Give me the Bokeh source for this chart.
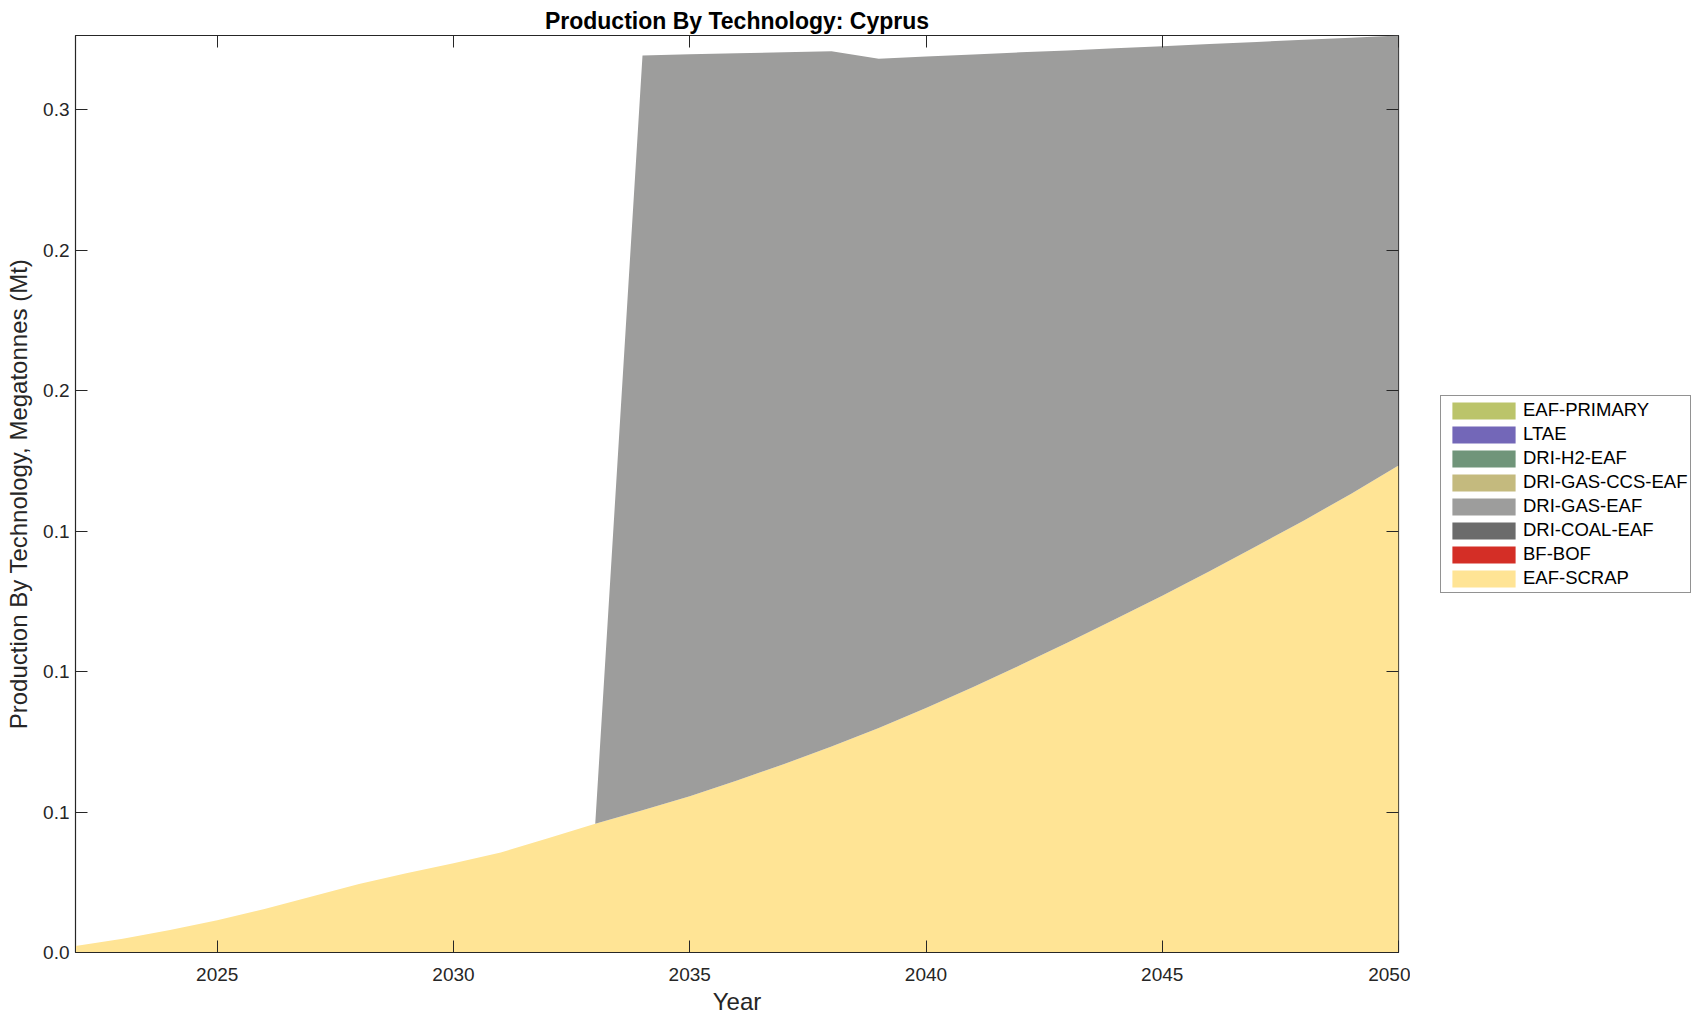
from bokeh.plotting import figure
from bokeh.layouts import row
from bokeh.models import (Range1d, FixedTicker, LinearAxis, Legend, LegendItem)
from bokeh.embed import file_html
from bokeh.resources import INLINE

years = list(range(2022, 2051))

eaf_scrap = [0.0023, 0.0049, 0.0080, 0.0115, 0.0155, 0.0199, 0.0244, 0.0282,
             0.0318, 0.0356, 0.0407, 0.0458, 0.0506, 0.0556, 0.0612, 0.0671,
             0.0733, 0.0799, 0.0870, 0.0945, 0.1023, 0.1103, 0.1186, 0.1270,
             0.1357, 0.1447, 0.1538, 0.1633, 0.1733]
bf_bof = [0.0] * 29
dri_coal_eaf = [0.0] * 29
dri_gas_eaf = [0.0, 0.0, 0.0, 0.0, 0.0, 0.0, 0.0, 0.0,
               0.0, 0.0, 0.0, 0.0, 0.2687, 0.2641, 0.2589, 0.2533,
               0.2475, 0.2382, 0.2319, 0.2251, 0.2181, 0.2108, 0.2033, 0.1956,
               0.1877, 0.1794, 0.1711, 0.1623, 0.1531]
dri_gas_ccs_eaf = [0.0] * 29
dri_h2_eaf = [0.0] * 29
ltae = [0.0] * 29
eaf_primary = [0.0] * 29

# stacking order: bottom to top
series_names = ["EAF-SCRAP", "BF-BOF", "DRI-COAL-EAF", "DRI-GAS-EAF",
                "DRI-GAS-CCS-EAF", "DRI-H2-EAF", "LTAE", "EAF-PRIMARY"]
series_values = [eaf_scrap, bf_bof, dri_coal_eaf, dri_gas_eaf,
                 dri_gas_ccs_eaf, dri_h2_eaf, ltae, eaf_primary]
series_colors = ["#FFE495", "#D42E26", "#6B6B6B", "#9D9D9C",
                 "#C4BA7E", "#70957A", "#7367B8", "#BBC46A"]

y_ticks = [0.0, 0.05, 0.10, 0.15, 0.20, 0.25, 0.30]
y_tick_labels = ["0.0", "0.1", "0.1", "0.1", "0.2", "0.2", "0.3"]
x_ticks = [2025, 2030, 2035, 2040, 2045, 2050]

data = {"year": years}
for n, v in zip(series_names, series_values):
    data[n] = v
totals = [sum(col[i] for col in series_values) for i in range(len(years))]
ymax = max(totals)

FONT = "Liberation Sans"
TXT = "#262626"
W1 = 1410
H = 1021

p = figure(width=W1, height=H, output_backend="svg", toolbar_location=None,
           x_range=Range1d(2022, 2050), y_range=Range1d(0, ymax),
           min_border_left=75, min_border_right=W1 - 1398, min_border_top=35,
           min_border_bottom=69)
p.title.text = "Production By Technology: Cyprus"
p.title.text_font = FONT
p.title.text_font_size = "23px"
p.title.text_font_style = "bold"
p.title.text_color = "#000000"
p.title.align = "center"
p.title.standoff = 4

renderers = p.varea_stack(stackers=series_names, x="year", color=series_colors,
                          source=data)

p.grid.visible = False
p.background_fill_color = "white"
p.border_fill_color = "white"
p.outline_line_color = TXT
p.outline_line_width = 1.2

for ax in (p.xaxis[0], p.yaxis[0]):
    ax.major_tick_in = 12
    ax.major_tick_out = 0
    ax.minor_tick_line_color = None
    ax.axis_line_color = TXT
    ax.major_tick_line_color = TXT
    ax.major_label_text_font = FONT
    ax.major_label_text_font_size = "19px"
    ax.major_label_text_color = TXT
    ax.axis_label_text_font = FONT
    ax.axis_label_text_font_size = "24px"
    ax.axis_label_text_font_style = "normal"
    ax.axis_label_text_color = TXT

p.xaxis[0].ticker = FixedTicker(ticks=x_ticks)
p.xaxis[0].axis_label = "Year"
p.xaxis[0].major_label_standoff = 15
p.xaxis[0].axis_label_standoff = 4

p.yaxis[0].ticker = FixedTicker(ticks=y_ticks)
p.yaxis[0].major_label_overrides = {t: l for t, l in zip(y_ticks, y_tick_labels)}
p.yaxis[0].axis_label = "Production By Technology, Megatonnes (Mt)"
p.yaxis[0].major_label_standoff = 6
p.yaxis[0].axis_label_standoff = 8

top_ax = LinearAxis(ticker=FixedTicker(ticks=x_ticks), major_tick_in=12,
                    major_tick_out=0, minor_tick_line_color=None,
                    major_label_text_font_size="1px", major_label_standoff=0,
                    major_label_text_color=None,
                    axis_line_color=None, major_tick_line_color=TXT)
right_ax = LinearAxis(ticker=FixedTicker(ticks=y_ticks), major_tick_in=12,
                      major_tick_out=0, minor_tick_line_color=None,
                      major_label_text_font_size="1px", major_label_standoff=0,
                      major_label_text_color=None,
                      axis_line_color=None, major_tick_line_color=TXT)
p.add_layout(top_ax, "above")
p.add_layout(right_ax, "right")

# separate panel holding the legend, to the right of the chart
W2 = 1703 - W1
p2 = figure(width=W2, height=H, output_backend="svg", toolbar_location=None,
            x_axis_location=None, y_axis_location=None,
            x_range=Range1d(0, 1), y_range=Range1d(0, 1),
            min_border_left=0, min_border_right=0, min_border_top=0,
            min_border_bottom=0)
p2.grid.visible = False
p2.outline_line_color = None
p2.background_fill_color = "white"
p2.border_fill_color = "white"
# zero-height proxies (invisible) that carry each series' legend swatch
proxy = [p2.varea(x=[0, 1], y1=[0, 0], y2=[0, 0], color=c) for c in series_colors]

items = [LegendItem(label=n, renderers=[r]) for n, r in zip(series_names, proxy)]
items = items[::-1]
# frames of the row are aligned with the chart's frame (bottom at y=952)
legend = Legend(items=items, location=(1440 - W1, 952 - 593), orientation="vertical",
                label_text_font=FONT, label_text_font_size="18.5px",
                label_text_color="#000000",
                glyph_width=79, glyph_height=21, label_height=20,
                spacing=2, padding=3, margin=0, label_standoff=0,
                border_line_color=TXT, border_line_width=1,
                background_fill_color="white", background_fill_alpha=1.0)
p2.add_layout(legend, "center")

open("out.html", "w").write(file_html(row(p, p2), INLINE))
